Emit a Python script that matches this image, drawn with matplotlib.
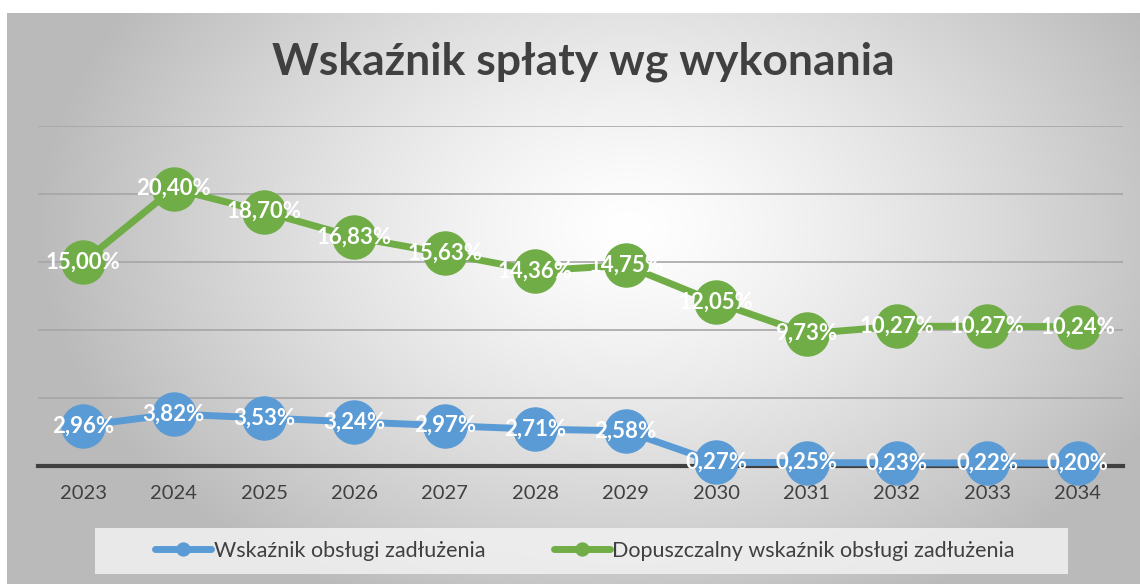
import matplotlib.pyplot as plt
import numpy as np
from matplotlib.patches import Rectangle

years = ['2023', '2024', '2025', '2026', '2027', '2028', '2029',
         '2030', '2031', '2032', '2033', '2034']
wskaznik = [2.96, 3.82, 3.53, 3.24, 2.97, 2.71, 2.58, 0.27, 0.25, 0.23, 0.22, 0.20]
dopuszczalny = [15.00, 20.40, 18.70, 16.83, 15.63, 14.36, 14.75, 12.05, 9.73, 10.27, 10.27, 10.24]
name_a = 'Wskaźnik obsługi zadłużenia'
name_b = 'Dopuszczalny wskaźnik obsługi zadłużenia'

blue = '#5B9BD5'
green = '#70AD47'
txt = '#404040'
plt.rcParams['font.family'] = ['Lato', 'DejaVu Sans']

W, H = 1140, 584
fig = plt.figure(figsize=(W / 100, H / 100), dpi=100, facecolor='white')

# radial gradient background of the chart area
bg = fig.add_axes([7 / W, 0, (W - 7) / W, (H - 13) / H])
gx, gy = np.meshgrid(np.linspace(-1, 1, 400), np.linspace(-1, 1, 200))
r = np.sqrt(((gx - 0.1) / 1.0) ** 2 + ((gy + 0.25) / 1.4) ** 2)
shade = 1.0 - 0.27 * np.clip(r / 1.05, 0, 1) ** 1.3
bg.imshow(np.dstack([shade] * 3), aspect='auto', extent=[0, 1, 0, 1], origin='upper')
bg.axis('off')

ax = fig.add_axes([38 / W, (H - 466) / H, 1085 / W, 340 / H])
ax.set_facecolor('none')
x = np.arange(len(years))

for vals, col, name in [(wskaznik, blue, name_a), (dopuszczalny, green, name_b)]:
    ax.plot(x, vals, color=col, lw=5, marker='o', ms=31, mec=col, mfc=col,
            label=name, zorder=3, solid_capstyle='round', clip_on=False)
    for xi, v in zip(x, vals):
        ax.text(xi, v, f'{v:.2f}%'.replace('.', ','), color='white', fontsize=16,
                fontweight='bold', ha='center', va='center', zorder=5, clip_on=False)

ax.set_xlim(-0.5, len(years) - 0.5)
ax.set_ylim(0, 25)
ax.set_yticks([5, 10, 15, 20, 25])
ax.yaxis.grid(True, color='#a6a6a6', lw=1.2)
ax.set_axisbelow(True)
ax.tick_params(axis='y', left=False, labelleft=False)
ax.set_xticks(x)
ax.set_xticklabels(years, fontsize=14.5, color=txt)
ax.tick_params(axis='x', length=0, pad=14)
for s in ['top', 'right', 'left']:
    ax.spines[s].set_visible(False)
ax.spines['bottom'].set_color(txt)
ax.spines['bottom'].set_linewidth(3)
ax.spines['bottom'].set_zorder(2)

fig.text(583 / W, 1 - 62 / H, 'Wskaźnik spłaty wg wykonania', fontsize=32,
         fontweight='bold', color=txt, ha='center', va='center')

# legend box
fig.patches.append(Rectangle((95 / W, 1 - 574 / H), 973 / W, 46 / H,
                             transform=fig.transFigure, facecolor='#f2f2f2',
                             edgecolor='none', alpha=0.85, zorder=0))
leg = fig.legend(loc='center', bbox_to_anchor=(585 / W, 1 - 551 / H), ncol=2,
                 frameon=False, fontsize=15.5, handlelength=2.6, handletextpad=0.1,
                 columnspacing=3.2, markerscale=0.3)
for t in leg.get_texts():
    t.set_color(txt)

fig.savefig('out.png', dpi=100)
